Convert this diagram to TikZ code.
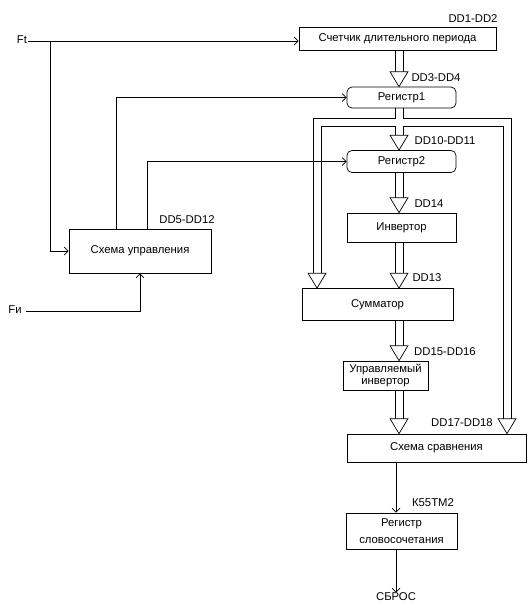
\documentclass[tikz,border=0pt]{standalone}
\usepackage{fontspec}
\setmainfont{Liberation Sans}
\usetikzlibrary{calc,arrows.meta}
% hollow bus arrow: x coordinate, from, to
\newcommand{\busline}[3]{%
  \draw ($(#2 -| #1)+(-4,0)$) -- ($(#3 -| #1)+(-4,15)$)
        ($(#2 -| #1)+(4,0)$) -- ($(#3 -| #1)+(4,15)$);
  \bustip{#1}{#3}}
\newcommand{\bustip}[2]{%
  \draw ($(#2 -| #1)$) -- ($(#2 -| #1)+(-9,15)$) -- ($(#2 -| #1)+(9,15)$) -- cycle;}
\begin{document}
\begin{tikzpicture}[x=1pt,y=1pt,line width=0.7pt,
  font=\fontsize{11.3}{13}\selectfont,
  box/.style={draw, inner sep=0pt, align=center},
  rbox/.style={box, rounded corners=5pt},
  lbl/.style={inner sep=0pt},
  sig/.style={-{Straight Barb[length=4pt,width=8pt]}}]
\useasboundingbox (0,0) rectangle (531,-614);
\coordinate (bx) at (399,0);
\coordinate (lx) at (317,0);
\coordinate (rx) at (507,0);
\coordinate (ox) at (396,0);
% blocks
\node[box, minimum width=197pt, minimum height=23pt] (cnt) at (397.5,-38.5) {Счетчик длительного периода};
\node[rbox, minimum width=109pt, minimum height=21pt] (r1) at (401.5,-97.5) {Регистр1};
\node[rbox, minimum width=109pt, minimum height=22pt] (r2) at (401.5,-161.5) {Регистр2};
\node[box, minimum width=109pt, minimum height=29pt] (inv) at (401.5,-227.5) {Инвертор};
\node[box, minimum width=151pt, minimum height=32pt] (sum) at (377.5,-304.5) {Сумматор};
\node[box, minimum width=85pt, minimum height=29pt, font=\fontsize{11.3}{12}\selectfont] (uinv) at (385.5,-375.5) {Управляемый\\инвертор};
\node[box, minimum width=179pt, minimum height=28pt] (cmp) at (436.5,-448) {Схема сравнения};
\node[box, minimum width=111pt, minimum height=36pt] (reg) at (401.5,-531) {Регистр\\[4pt]словосочетания};
\node[box, minimum width=142pt, minimum height=44pt] (ctrl) at (140,-251) {Схема управления};
\node[lbl] (sb) at (396,-597) {СБРОС};
\node[lbl] (ft) at (22,-40) {Ft};
\node[lbl] (fi) at (15,-310) {Fи};
% chip labels
\node[lbl] at (473,-19) {DD1-DD2};
\node[lbl] at (436,-78) {DD3-DD4};
\node[lbl] at (445,-141) {DD10-DD11};
\node[lbl] at (429,-204) {DD14};
\node[lbl] at (427,-278) {DD13};
\node[lbl] at (445,-352) {DD15-DD16};
\node[lbl] at (462,-423) {DD17-DD18};
\node[lbl] at (433,-503) {К55ТМ2};
\node[lbl] at (187,-220) {DD5-DD12};
% buses
\busline{bx}{cnt.south}{r1.north}
\busline{bx}{r2.south}{inv.north}
\busline{bx}{inv.south}{sum.north}
\busline{bx}{sum.south}{uinv.north}
\busline{bx}{uinv.south}{cmp.north}
\draw ($(r1.south -| bx)+(-4,0)$) |- (313,-118) -- ($(sum.north -| lx)+(-4,15)$);
\draw ($(sum.north -| lx)+(4,15)$) |- (395,-126) -- ($(r2.north -| bx)+(-4,15)$);
\draw ($(r1.south -| bx)+(4,0)$) |- (511,-118) -- ($(cmp.north -| rx)+(4,15)$);
\draw ($(cmp.north -| rx)+(-4,15)$) |- (403,-126) -- ($(r2.north -| bx)+(4,15)$);
\bustip{bx}{r2.north}
\bustip{lx}{sum.north}
\bustip{rx}{cmp.north}
% signals
\coordinate (fts) at (28,-41);
\coordinate (jx) at (50,-41);
\draw[sig] (fts) -- (fts -| cnt.west);
\draw[sig] (jx) |- (ctrl.west);
\draw[sig] (ctrl.north -| 116,0) |- (r1.west);
\draw[sig] (ctrl.north -| 147,0) |- (r2.west);
\draw[sig] (26,-311) -| (ctrl.south);
\draw[sig] (cmp.south -| ox) -- (reg.north -| ox);
\draw[sig] (reg.south -| ox) -- (sb.north);
\end{tikzpicture}
\end{document}
